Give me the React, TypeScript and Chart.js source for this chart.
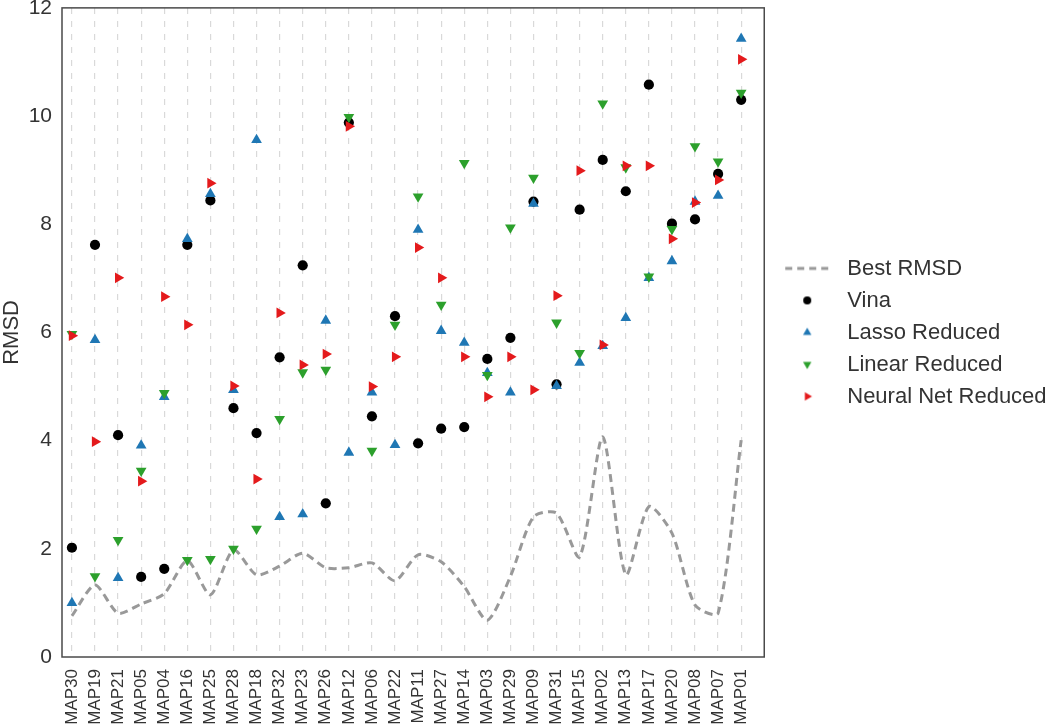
import React, { useEffect, useRef } from 'react';
import { Chart, registerables } from 'chart.js';

Chart.register(...registerables);

const categories = ['MAP30', 'MAP19', 'MAP21', 'MAP05', 'MAP04', 'MAP16', 'MAP25', 'MAP28', 'MAP18', 'MAP32', 'MAP23', 'MAP26', 'MAP12', 'MAP06', 'MAP22', 'MAP11', 'MAP27', 'MAP14', 'MAP03', 'MAP29', 'MAP09', 'MAP31', 'MAP15', 'MAP02', 'MAP13', 'MAP17', 'MAP20', 'MAP08', 'MAP07', 'MAP01'];

const bestRmsd = [0.76, 1.33, 0.81, 0.98, 1.17, 1.78, 1.15, 1.98, 1.52, 1.68, 1.92, 1.65, 1.65, 1.74, 1.41, 1.89, 1.76, 1.30, 0.68, 1.49, 2.59, 2.66, 1.85, 4.07, 1.52, 2.78, 2.29, 0.96, 0.81, 4.01];

const vina = [2.02, 7.62, 4.10, 1.48, 1.63, 7.62, 8.44, 4.60, 4.14, 5.54, 7.24, 2.84, 9.88, 4.45, 6.30, 3.95, 4.22, 4.25, 5.51, 5.90, 8.42, 5.04, 8.27, 9.19, 8.61, 10.58, 8.01, 8.09, 8.93, 10.30];

const lassoReduced = [1.00, 5.86, 1.46, 3.91, 4.81, 7.73, 8.56, 4.94, 9.56, 2.59, 2.64, 6.22, 3.78, 4.89, 3.92, 7.90, 6.03, 5.81, 5.25, 4.89, 8.38, 5.01, 5.44, 5.75, 6.27, 7.01, 7.32, 8.42, 8.53, 11.43];

const linearReduced = [5.97, 1.49, 2.16, 3.44, 4.88, 1.79, 1.81, 2.00, 2.37, 4.40, 5.26, 5.31, 9.98, 3.81, 6.14, 8.51, 6.51, 9.13, 5.21, 7.94, 8.86, 6.18, 5.62, 10.23, 9.05, 7.03, 7.91, 9.44, 9.16, 10.43];

const neuralNetReduced = [5.94, 3.98, 7.01, 3.25, 6.66, 6.14, 8.76, 5.01, 3.29, 6.36, 5.40, 5.60, 9.81, 5.00, 5.55, 7.57, 7.01, 5.55, 4.81, 5.55, 4.94, 6.68, 8.99, 5.77, 9.08, 9.08, 7.73, 8.40, 8.82, 11.05];

const seriesNames = ['Best RMSD', 'Vina', 'Lasso Reduced', 'Linear Reduced', 'Neural Net Reduced'];

const FONT = "'Liberation Sans', Arial, Helvetica, sans-serif";
const TEXT = '#333333';
const GREY = '#999999';
const BLUE = '#1f77b4';
const GREEN = '#2ca02c';
const RED = '#e41a1c';

function makeMarker(kind: string, color: string, dx: number): HTMLCanvasElement {
  const c = document.createElement('canvas');
  const pad = Math.abs(dx);
  if (kind === 'line') {
    c.width = 44 + 2 * pad;
    c.height = 6;
    const ctx = c.getContext('2d')!;
    ctx.strokeStyle = color;
    ctx.lineWidth = 3;
    ctx.setLineDash([7, 5]);
    ctx.beginPath();
    ctx.moveTo(pad + dx, 3);
    ctx.lineTo(pad + dx + 44, 3);
    ctx.stroke();
    return c;
  }
  c.width = 14 + 2 * pad;
  c.height = 14;
  const ctx = c.getContext('2d')!;
  const cx = c.width / 2 + dx;
  const cy = 7;
  ctx.fillStyle = color;
  ctx.beginPath();
  if (kind === 'circle') {
    ctx.arc(cx, cy, 4, 0, Math.PI * 2);
  } else {
    const r = 4.8;
    const rot = kind === 'up' ? 0 : kind === 'down' ? Math.PI : Math.PI / 2;
    for (let k = 0; k < 3; k++) {
      const a = rot + (k * 2 * Math.PI) / 3;
      const px = cx + Math.sin(a) * r;
      const py = cy - Math.cos(a) * r;
      if (k === 0) ctx.moveTo(px, py);
      else ctx.lineTo(px, py);
    }
    ctx.closePath();
  }
  ctx.fill();
  return c;
}

const framePlugin = {
  id: 'frame',
  afterLayout(chart: any) {
    // let the legend text run to the canvas edge (not clipped at the box)
    if (chart.legend) {
      chart.legend.right = chart.width;
      chart.legend.width = chart.legend.right - chart.legend.left;
    }
  },
  beforeDatasetsDraw(chart: any) {
    const { ctx, chartArea } = chart;
    ctx.save();
    ctx.strokeStyle = '#4a4a4a';
    ctx.lineWidth = 1.5;
    ctx.strokeRect(chartArea.left, chartArea.top, chartArea.right - chartArea.left, chartArea.bottom - chartArea.top);
    ctx.restore();
  },
};

export default function App() {
  const ref = useRef<HTMLCanvasElement>(null);

  useEffect(() => {
    const canvas = ref.current!;
    const toXY = (arr: number[]) => arr.map((y, i) => ({ x: i, y }));
    const markers = [
      makeMarker('line', GREY, 2),
      makeMarker('circle', '#000000', 2),
      makeMarker('up', BLUE, 2),
      makeMarker('down', GREEN, 2),
      makeMarker('right', RED, 2),
    ];

    const chart = new Chart(canvas, {
      type: 'scatter',
      data: {
        datasets: [
          {
            label: seriesNames[0],
            data: toXY(bestRmsd),
            showLine: true,
            borderColor: GREY,
            backgroundColor: GREY,
            borderWidth: 3,
            borderDash: [8, 5],
            pointRadius: 0,
            tension: 0.25,
            fill: false,
            order: 5,
          },
          {
            label: seriesNames[1],
            data: toXY(vina),
            pointStyle: 'circle',
            pointRadius: 5.1,
            backgroundColor: '#000000',
            borderColor: '#000000',
            borderWidth: 0,
            order: 4,
          },
          {
            label: seriesNames[2],
            data: toXY(lassoReduced),
            pointStyle: 'triangle',
            pointRadius: 6.2,
            backgroundColor: BLUE,
            borderColor: BLUE,
            borderWidth: 0,
            order: 3,
          },
          {
            label: seriesNames[3],
            data: toXY(linearReduced),
            pointStyle: 'triangle',
            rotation: 180,
            pointRadius: 6.2,
            backgroundColor: GREEN,
            borderColor: GREEN,
            borderWidth: 0,
            order: 2,
          },
          {
            label: seriesNames[4],
            data: toXY(neuralNetReduced),
            pointStyle: 'triangle',
            rotation: 90,
            pointRadius: 6.2,
            backgroundColor: RED,
            borderColor: RED,
            borderWidth: 0,
            order: 1,
          },
        ],
      } as any,
      options: {
        responsive: false,
        animation: false,
        devicePixelRatio: 1,
        events: [],
        layout: { padding: { top: 0, left: 0, bottom: 0, right: 31 } },
        font: { family: FONT },
        scales: {
          x: {
            type: 'linear',
            min: -0.43,
            max: 30,
            afterBuildTicks: (scale: any) => {
              scale.ticks = categories.map((_, i) => ({ value: i }));
            },
            afterFit: (scale: any) => {
              scale.height = 70;
            },
            ticks: {
              autoSkip: false,
              maxRotation: 90,
              minRotation: 90,
              padding: 12,
              color: TEXT,
              font: { family: FONT, size: 17 },
              callback: (v: any) => categories[v as number] ?? '',
            },
            grid: {
              display: true,
              drawTicks: false,
              color: '#d9d9d9',
              lineWidth: 1.2,
            },
            border: { display: false, dash: [6, 7] },
          },
          y: {
            type: 'linear',
            min: 0,
            max: 12,
            afterFit: (scale: any) => {
              scale.width = 62;
            },
            ticks: {
              stepSize: 2,
              padding: 0,
              color: TEXT,
              font: { family: FONT, size: 21, lineHeight: 0.75 },
            },
            grid: { display: false, drawTicks: true, tickLength: 10 },
            border: { display: false },
            title: {
              display: true,
              text: 'RMSD',
              color: TEXT,
              padding: 0,
              font: { family: FONT, size: 22, lineHeight: 1.1 },
            },
          },
        },
        plugins: {
          tooltip: { enabled: false },
          legend: {
            display: true,
            position: 'right',
            align: 'center',
            fullSize: false,
            labels: {
              usePointStyle: true,
              pointStyleWidth: 62,
              padding: 10,
              color: TEXT,
              font: { family: FONT, size: 22 },
              generateLabels: (ch: any) =>
                ch.data.datasets.map((ds: any, i: number) => ({
                  text: ds.label,
                  pointStyle: markers[i],
                  fillStyle: 'rgba(0,0,0,0)',
                  strokeStyle: 'rgba(0,0,0,0)',
                  lineWidth: 0,
                  hidden: false,
                  datasetIndex: i,
                  fontColor: TEXT,
                })),
            },
          },
        },
      } as any,
      plugins: [framePlugin],
    });

    return () => chart.destroy();
  }, []);

  return (
    <div style={{ position: 'absolute', left: 0, top: 0, width: 1050, height: 727, background: '#ffffff' }}>
      <canvas ref={ref} width={1050} height={727} style={{ display: 'block', width: 1050, height: 727 }} />
    </div>
  );
}
